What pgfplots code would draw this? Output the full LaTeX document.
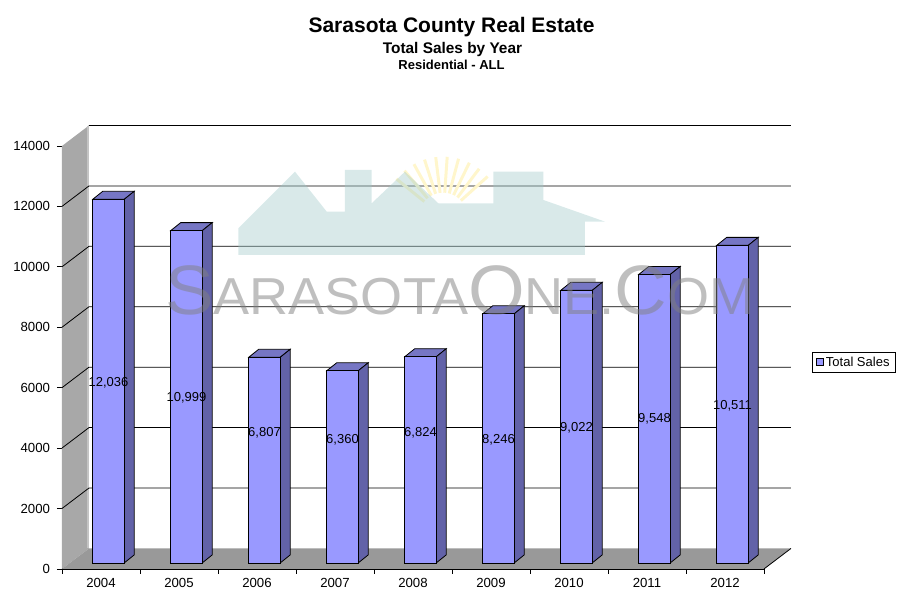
\documentclass[border=0pt]{standalone}
\usepackage{pgfplots}
\pgfplotsset{compat=1.18}
\usepackage{pgfplotstable}
\usepackage{fontspec}
\setmainfont{Liberation Sans}
\definecolor{barfront}{HTML}{9999FF}
\definecolor{bartop}{HTML}{7676C4}
\definecolor{barside}{HTML}{6262A8}
\definecolor{floorc}{HTML}{999999}
\definecolor{wallc}{HTML}{A8A8A8}
\definecolor{wallband}{HTML}{C4C4C4}
\definecolor{housec}{HTML}{9FC9C9}
\definecolor{sunc}{HTML}{FFF6CC}

\pgfplotstableread{
i v ly lab
0 12036 6166 12,036
1 10999 5660 10,999
2 6807 4501 6,807
3 6360 4269 6,360
4 6824 4501 6,824
5 8246 4269 8,246
6 9022 4677 9,022
7 9548 4965 9,548
8 10511 5395 10,511
}\datatable

\begin{document}
\begin{tikzpicture}
\begin{axis}[
  x=78pt, y=0.0302143pt,
  xmin=0, xmax=9, ymin=0, ymax=14000,
  clip=false,
  axis x line*=bottom, axis y line*=left,
  axis line style={black, line width=0.8pt},
  tick align=outside,
  major tick length=5pt,
  tick style={black, line width=0.8pt},
  ytick={0,2000,...,14000},
  scaled y ticks=false,
  /pgf/number format/set thousands separator={},
  /pgf/number format/assume math mode=true,
  xtick={0,1,...,9},
  xticklabels={},
  extra x ticks={0.5,1.5,...,8.5},
  extra x tick labels={2004,2005,2006,2007,2008,2009,2010,2011,2012},
  extra x tick style={major tick length=0pt},
  tick label style={font=\fontsize{13.2}{15}\selectfont},
  yticklabel style={anchor=east, xshift=-3.5pt},
  xticklabel style={anchor=north, yshift=-6pt},
  legend style={at={(1.068,0.513)}, anchor=north west, draw=black, line width=0.8pt,
    font=\fontsize{13}{15}\selectfont, inner xsep=4pt, inner ysep=2.5pt, cells={anchor=west}},
]
% bounding box of the whole picture
\path (axis cs:-0.79487,-1390.1) rectangle (axis cs:10.74359,18832.1);

% left wall
\addplot[fill=wallc, draw=none, forget plot] coordinates {(0,0) (0.346,678) (0.346,14678) (0,14000)} -- cycle;
\addplot[draw=wallband, line width=2pt, forget plot] coordinates {(0.333,700) (0.333,14660)};
% floor
\addplot[fill=floorc, draw=none, forget plot] coordinates {(0,0) (9,0) (9.346,678) (0.346,678)} -- cycle;
\addplot[black, line width=0.8pt, forget plot] coordinates {(9,0) (9.346,678)};
% gridlines (left wall diagonals + back wall)
\addplot[black, line width=0.8pt, forget plot, unbounded coords=jump] coordinates {
 (0,2000) (0.346,2678) (9.346,2678) (nan,nan)
 (0,4000) (0.346,4678) (9.346,4678) (nan,nan)
 (0,6000) (0.346,6678) (9.346,6678) (nan,nan)
 (0,8000) (0.346,8678) (9.346,8678) (nan,nan)
 (0,10000) (0.346,10678) (9.346,10678) (nan,nan)
 (0,12000) (0.346,12678) (9.346,12678) (nan,nan)
 (0.346,14678) (9.346,14678)
};

% watermark: sun and houses
\pgfplotsinvokeforeach{42,53,...,142}{
  \draw[sunc, line width=3pt] ([shift={(#1:24pt)}]axis cs:4.885,11660) -- ([shift={(#1:60pt)}]axis cs:4.885,11660);
}
\addplot[fill=housec, fill opacity=0.4, draw=none, forget plot] coordinates {
 (2.260,10393) (2.260,11276) (2.987,13150) (3.394,11826) (3.628,11826) (3.628,13206)
 (3.971,13206) (3.971,12104) (4.397,13150) (4.824,12104) (5.529,12104) (5.529,13150)
 (6.171,13150) (6.171,12213) (6.962,11495) (6.705,11495) (6.705,10393)} -- cycle;

% 3D faces of the bars (top and side)
\pgfplotsinvokeforeach{0,...,8}{
  \pgfplotstablegetelem{#1}{v}\of\datatable
  \pgfmathsetmacro\ya{\pgfplotsretval+199}
  \pgfmathsetmacro\yb{\pgfplotsretval+464}
  \pgfmathsetmacro\xa{#1+0.394}
  \pgfmathsetmacro\xb{#1+0.798}
  \pgfmathsetmacro\xc{#1+0.926}
  \pgfmathsetmacro\xd{#1+0.522}
  \edef\temp{%
    \noexpand\addplot[fill=bartop, draw=black, line width=0.8pt, forget plot] coordinates {(\xa,\ya) (\xb,\ya) (\xc,\yb) (\xd,\yb)} -- cycle;
    \noexpand\addplot[fill=barside, draw=black, line width=0.8pt, forget plot] coordinates {(\xb,199) (\xb,\ya) (\xc,\yb) (\xc,464)} -- cycle;
  }\temp
}
% front faces
\addplot[ybar, bar width=0.404, bar shift=0pt, fill=barfront, draw=black, line width=0.8pt, yshift=6pt, forget plot]
  table[x expr=\coordindex+0.596, y=v]{\datatable};
\addlegendimage{legend image code/.code={\draw[fill=barfront, draw=black, line width=0.8pt] (0pt,-3.5pt) rectangle (7pt,3.5pt);}}
\addlegendentry{Total Sales}

% value labels
\addplot[draw=none, forget plot, point meta=explicit symbolic,
  nodes near coords={\pgfplotspointmeta},
  nodes near coords style={anchor=center, inner sep=0pt, font=\fontsize{13}{15}\selectfont, text=black}]
  table[x expr=\coordindex+0.596, y=ly, meta=lab]{\datatable};

% watermark text
\node[anchor=base west, text=gray, text opacity=0.5, inner sep=0pt, xscale=1.04] at (axis cs:1.32,8407)
 {\fontsize{70}{70}\selectfont S\fontsize{52}{52}\selectfont ARASOTA\fontsize{70}{70}\selectfont O\fontsize{52}{52}\selectfont NE.\fontsize{70}{70}\selectfont C\fontsize{52}{52}\selectfont OM};

% titles
\node[anchor=base, font=\bfseries\fontsize{21}{24}\selectfont] at (axis cs:4.994,17740) {Sarasota County Real Estate};
\node[anchor=base, font=\bfseries\fontsize{15.4}{18}\selectfont] at (axis cs:5.006,17068) {Total Sales by Year};
\node[anchor=base, font=\bfseries\fontsize{13}{15}\selectfont] at (axis cs:4.994,16539) {Residential - ALL};
\end{axis}
\end{tikzpicture}
\end{document}
